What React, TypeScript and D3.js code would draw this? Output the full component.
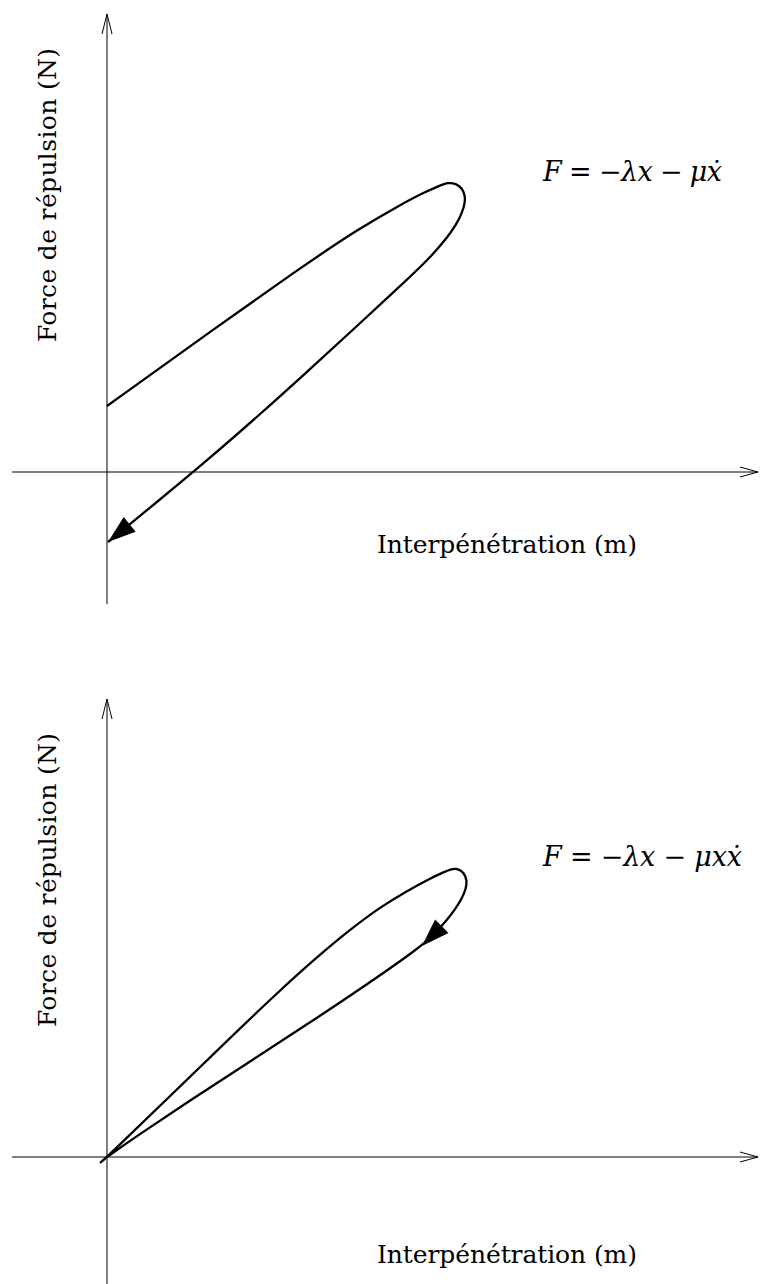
import React from 'react';
import * as d3 from 'd3';

// values read off the figure (units ~ px measured from the origin)
// loop 1 : F = -lambda x - mu xdot
const loop1X = [0, 93, 193, 253, 293, 318, 333, 341, 349, 355, 358, 358, 355, 349, 340, 322, 290, 250, 200, 150, 100, 50, 1];
const loop1F = [66, 133, 204, 244, 267, 280, 286.5, 289.5, 288.5, 284, 277, 269, 259, 247, 234, 213, 183, 146, 100, 55, 11.5, -30, -70];
// loop 2 : F = -lambda x - mu x xdot
const loop2X = [-7, 0, 60, 120, 170, 210, 245, 275, 300, 320, 335, 345, 352, 357, 360, 359, 355, 349, 340, 328, 315, 260, 200, 140, 80, 30, 0];
const loop2F = [-6, 0, 58, 116, 164, 200, 229, 251, 266, 277, 284, 288.5, 288, 284, 277, 268, 259, 249, 237, 224, 211, 172.5, 132.5, 93.5, 54.5, 21, 0];
const arrowTips = [22, 20];

const xDomain = [-95, 651];
const yDomain = [-132, 458];

const xLabel = 'Interpénétration (m)';
const yLabel = 'Force de répulsion (N)';
// [text, italic?]
const formula1 = [['F', 1], [' = −', 0], ['λx', 1], [' − ', 0], ['μẋ', 1]];
const formula2 = [['F', 1], [' = −', 0], ['λx', 1], [' − ', 0], ['μxẋ', 1]];

const W = 761;
const H = 1284;

class App extends React.Component {
  svgRef: any;
  constructor(props: any) {
    super(props);
    this.svgRef = React.createRef();
  }

  componentDidMount() {
    const svg = d3.select(this.svgRef.current);
    svg.selectAll('*').remove();

    const panels = [
      { dy: 0, X: loop1X, F: loop1F, tip: arrowTips[0], formula: formula1, fLen: 179, labY: 553 },
      { dy: 685, X: loop2X, F: loop2F, tip: arrowTips[1], formula: formula2, fLen: 199, labY: 1263 - 685 },
    ];

    const x = d3.scaleLinear().domain(xDomain).range([12, 758]);
    const y = d3.scaleLinear().domain(yDomain).range([604, 14]);

    panels.forEach((p) => {
      const g = svg.append('g').attr('transform', `translate(0,${p.dy})`);

      // axes (no ticks, just the lines)
      g.append('g')
        .attr('transform', `translate(0,${y(0)})`)
        .call(d3.axisBottom(x).tickValues([]).tickSizeOuter(0).offset(0))
        .select('.domain')
        .attr('stroke', '#000')
        .attr('stroke-width', 1);
      g.append('g')
        .attr('transform', `translate(${x(0)},0)`)
        .call(d3.axisLeft(y).tickValues([]).tickSizeOuter(0).offset(0))
        .select('.domain')
        .attr('stroke', '#000')
        .attr('stroke-width', 1);

      const xe = x.range()[1];
      const ye = y.range()[1];
      g.append('path')
        .attr('d', `M${xe - 18},${y(0) - 5}L${xe},${y(0)}L${xe - 18},${y(0) + 5}`)
        .attr('fill', 'none')
        .attr('stroke', '#000')
        .attr('stroke-width', 1);
      g.append('path')
        .attr('d', `M${x(0) - 5},${ye + 20}L${x(0)},${ye}L${x(0) + 5},${ye + 20}`)
        .attr('fill', 'none')
        .attr('stroke', '#000')
        .attr('stroke-width', 1);

      // the loop
      const line = d3
        .line<number>()
        .x((i) => x(p.X[i]))
        .y((i) => y(p.F[i]))
        .curve(d3.curveBasis);
      g.append('path')
        .attr('d', line(d3.range(p.X.length)))
        .attr('fill', 'none')
        .attr('stroke', '#000')
        .attr('stroke-width', 2.3)
        .attr('stroke-linejoin', 'round');

      // arrow head on the loop
      const tx = x(p.X[p.tip]);
      const ty = y(p.F[p.tip]);
      const px = x(p.X[p.tip - 1]);
      const py = y(p.F[p.tip - 1]);
      const len = Math.hypot(tx - px, ty - py);
      const ux = (tx - px) / len;
      const uy = (ty - py) / len;
      const bx = tx - 28 * ux;
      const by = ty - 28 * uy;
      g.append('path')
        .attr('d', `M${tx},${ty}L${bx - 9.5 * uy},${by + 9.5 * ux}L${bx + 9.5 * uy},${by - 9.5 * ux}Z`)
        .attr('fill', '#000');

      // formula
      const ft = g
        .append('text')
        .attr('x', 543)
        .attr('y', 181)
        .attr('font-family', 'DejaVu Serif')
        .attr('font-size', 27)
        .attr('textLength', p.fLen)
        .style('white-space', 'pre');
      p.formula.forEach((s) => {
        ft.append('tspan')
          .attr('font-style', s[1] ? 'italic' : 'normal')
          .text(s[0] as string);
      });

      // axis titles
      g.append('text')
        .attr('x', 377)
        .attr('y', p.labY)
        .attr('font-family', 'DejaVu Serif')
        .attr('font-size', 25)
        .attr('textLength', 260)
        .text(xLabel);
      g.append('text')
        .attr('transform', 'translate(56,342) rotate(-90)')
        .attr('font-family', 'DejaVu Serif')
        .attr('font-size', 25)
        .attr('textLength', 294)
        .text(yLabel);
    });
  }

  render() {
    return (
      <svg
        ref={this.svgRef}
        width={W}
        height={H}
        style={{ position: 'absolute', left: 0, top: 0, background: '#fff' }}
      />
    );
  }
}

export default App;
